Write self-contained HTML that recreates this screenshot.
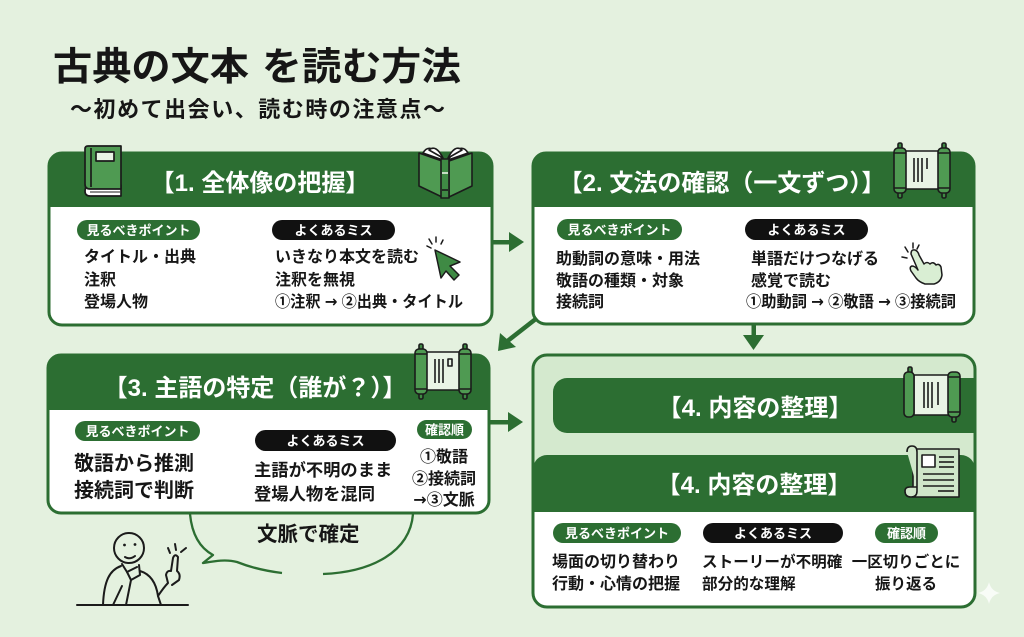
<!DOCTYPE html>
<html><head><meta charset="utf-8">
<style>
html,body{margin:0;padding:0;background:#e4f1df;}
svg{display:block;}
text{font-family:"Liberation Sans","Noto Sans CJK JP",sans-serif;font-weight:700;}
.ar{font-family:"DejaVu Sans","Liberation Sans",sans-serif;font-weight:700;}
</style></head><body>
<svg width="1024" height="637" viewBox="0 0 1024 637" xmlns="http://www.w3.org/2000/svg">
<rect width="1024" height="637" fill="#e4f1df"/>

<!-- Title -->
<text x="53" y="80" font-size="38.5" fill="#161616" textLength="196" lengthAdjust="spacingAndGlyphs">古典の文本</text>
<text x="262" y="80" font-size="38.5" fill="#161616" textLength="199" lengthAdjust="spacingAndGlyphs">を読む方法</text>
<text x="70" y="117" font-size="22" fill="#161616" textLength="375" lengthAdjust="spacing">〜初めて出会い、読む時の注意点〜</text>

<!-- ===== Box 1 ===== -->
<rect x="49" y="153" width="443" height="172" rx="13" fill="#fff"/>
<path d="M49,207 V166 A13,13 0 0 1 62,153 H479 A13,13 0 0 1 492,166 V207 Z" fill="#2c6e32"/>
<rect x="49" y="153" width="443" height="172" rx="13" fill="none" stroke="#2c6e32" stroke-width="3"/>
<text x="260" y="191" font-size="24" fill="#fff" text-anchor="middle">【1. 全体像の把握】</text>

<!-- book icon -->
<g stroke="#1b1b1b" stroke-width="1.7" stroke-linejoin="round">
 <path d="M86,185 H121 V196 H90 Q85,196 85,191 Z" fill="#fff"/>
 <path d="M88,146 H121 V189 H90 Q85,189 85,184 V149 Q85,146 88,146 Z" fill="#4f9a52"/>
 <line x1="91" y1="148" x2="91" y2="187"/>
 <rect x="96" y="152" width="18" height="9" fill="#e9f4e5"/>
 <line x1="90" y1="192" x2="120" y2="192" stroke-width="1"/>
</g>
<!-- open book icon -->
<g stroke="#1b1b1b" stroke-width="1.6" stroke-linejoin="round">
 <path d="M423,153 Q430,141 443,160 Z" fill="#fff"/>
 <path d="M429,150 Q436,144 443,158 Z" fill="#fff"/>
 <path d="M468,153 Q461,141 448,160 Z" fill="#fff"/>
 <path d="M462,150 Q455,144 448,158 Z" fill="#fff"/>
 <path d="M419,153 L442,161 L442,197 L419,186 Z" fill="#4f9a52"/>
 <path d="M472,153 L449,161 L449,197 L472,186 Z" fill="#4f9a52"/>
 <rect x="441" y="159" width="8" height="39" fill="#3f8a44"/>
 <line x1="442" y1="173" x2="448" y2="173" stroke="#e9f4e5" stroke-width="1.6"/>
 <line x1="442" y1="190" x2="448" y2="190"/>
</g>

<rect x="77" y="220" width="123" height="20" rx="10" fill="#2c6e32"/>
<text x="138.5" y="235" font-size="13" fill="#fff" text-anchor="middle">見るべきポイント</text>
<rect x="272" y="220" width="123" height="20" rx="10" fill="#111"/>
<text x="333.5" y="235" font-size="13" fill="#fff" text-anchor="middle">よくあるミス</text>

<g font-size="16" fill="#161616">
 <text x="84" y="262">タイトル・出典</text>
 <text x="84" y="285">注釈</text>
 <text x="84" y="307">登場人物</text>
 <text x="275" y="262">いきなり本文を読む</text>
 <text x="275" y="285">注釈を無視</text>
 <text x="275" y="307" textLength="188" lengthAdjust="spacingAndGlyphs">①注釈 <tspan class="ar">→</tspan> ②出典・タイトル</text>
</g>
<!-- cursor -->
<g stroke="#1b1b1b" stroke-width="1.5" stroke-linecap="round" stroke-linejoin="round">
 <path d="M435,250 L460,262 L450,266 L459,275 L454,280 L446,271 L441,278 Z" fill="#3f8a44"/>
 <line x1="427" y1="246" x2="431" y2="248"/>
 <line x1="429" y1="239" x2="432" y2="244"/>
 <line x1="436" y1="237" x2="436" y2="242"/>
 <line x1="443" y1="240" x2="441" y2="244"/>
</g>

<!-- ===== Box 2 ===== -->
<rect x="533" y="153" width="441" height="171" rx="13" fill="#fff"/>
<path d="M533,207 V166 A13,13 0 0 1 546,153 H961 A13,13 0 0 1 974,166 V207 Z" fill="#2c6e32"/>
<rect x="533" y="153" width="441" height="171" rx="13" fill="none" stroke="#2c6e32" stroke-width="3"/>
<text x="722" y="191" font-size="24" fill="#fff" text-anchor="middle">【2. 文法の確認（一文ずつ）】</text>

<!-- scroll icon box2 -->
<g transform="translate(893,143)" stroke="#1b1b1b" stroke-width="1.6" stroke-linejoin="round">
 <rect x="11" y="8" width="36" height="38" fill="#e9f4e5"/>
 <line x1="21" y1="15" x2="21" y2="39"/><line x1="25" y1="15" x2="25" y2="39"/><line x1="29" y1="15" x2="29" y2="39"/><line x1="34" y1="15" x2="34" y2="26"/>
 <rect x="5" y="0" width="4" height="7" rx="1.5" fill="#3f8a44"/>
 <rect x="5" y="48" width="4" height="7" rx="1.5" fill="#3f8a44"/>
 <rect x="1" y="5" width="12" height="45" rx="4" fill="#4f9a52"/>
 <path d="M1,10 H13 M1,45 H13" fill="none"/>
 <rect x="49" y="0" width="4" height="7" rx="1.5" fill="#3f8a44"/>
 <rect x="49" y="48" width="4" height="7" rx="1.5" fill="#3f8a44"/>
 <rect x="45" y="5" width="12" height="45" rx="4" fill="#4f9a52"/>
 <path d="M45,10 H57 M45,45 H57" fill="none"/>
</g>

<rect x="557" y="219" width="125" height="21" rx="10.5" fill="#2c6e32"/>
<text x="619.5" y="234.5" font-size="13" fill="#fff" text-anchor="middle">見るべきポイント</text>
<rect x="745" y="219" width="123" height="21" rx="10.5" fill="#111"/>
<text x="806.5" y="234.5" font-size="13" fill="#fff" text-anchor="middle">よくあるミス</text>

<g font-size="16" fill="#161616">
 <text x="556" y="264">助動詞の意味・用法</text>
 <text x="556" y="286">敬語の種類・対象</text>
 <text x="556" y="307">接続詞</text>
 <text x="751" y="264">単語だけつなげる</text>
 <text x="751" y="286">感覚で読む</text>
 <text x="746" y="307" textLength="210" lengthAdjust="spacingAndGlyphs">①助動詞 <tspan class="ar">→</tspan> ②敬語 <tspan class="ar">→</tspan> ③接続詞</text>
</g>
<!-- hand -->
<g stroke="#1b1b1b" stroke-width="1.5" stroke-linecap="round" stroke-linejoin="round">
 <path d="M911,254 Q911,249 915,250 Q918,251 919,255 L924,264 Q927,261 930,264 Q933,261 936,265 Q939,263 941,267 L942,275 Q941,282 934,284 L925,284 Q919,282 916,278 L911,271 Q909,267 912,266 Q915,266 918,270 Z" fill="#d9eed3"/>
 <line x1="902" y1="257" x2="907" y2="258"/>
 <line x1="905" y1="247" x2="908" y2="252"/>
 <line x1="913" y1="243" x2="913" y2="248"/>
 <line x1="919" y1="245" x2="917" y2="249"/>
</g>

<!-- ===== Arrows ===== -->
<g fill="#2c6e32" stroke="none">
 <rect x="492" y="240" width="20" height="4.5"/>
 <polygon points="509,232 524,242 509,252"/>
 <rect x="489" y="420" width="22" height="4.5"/>
 <polygon points="508,412 523,422 508,432"/>
 <rect x="751.5" y="324" width="4.5" height="13"/>
 <polygon points="743,335 764,335 753.5,350"/>
 <polygon points="498,351 500,333 516,347"/>
</g>
<line x1="537" y1="318" x2="505" y2="343" stroke="#2c6e32" stroke-width="4.5"/>

<!-- ===== Box 3 ===== -->
<rect x="48" y="355" width="441" height="158" rx="13" fill="#fff"/>
<path d="M48,410 V368 A13,13 0 0 1 61,355 H476 A13,13 0 0 1 489,368 V410 Z" fill="#2c6e32"/>
<rect x="48" y="355" width="441" height="158" rx="13" fill="none" stroke="#2c6e32" stroke-width="3"/>
<text x="255" y="396" font-size="24" fill="#fff" text-anchor="middle">【3. 主語の特定（誰が？）】</text>

<!-- scroll icon box3 -->
<g transform="translate(414,344)" stroke="#1b1b1b" stroke-width="1.6" stroke-linejoin="round">
 <rect x="11" y="8" width="36" height="38" fill="#e9f4e5"/>
 <line x1="21" y1="15" x2="21" y2="39"/><line x1="25" y1="15" x2="25" y2="39"/><line x1="29" y1="15" x2="29" y2="39"/><rect x="34" y="15" width="4" height="7" fill="none"/>
 <rect x="5" y="0" width="4" height="7" rx="1.5" fill="#3f8a44"/>
 <rect x="5" y="48" width="4" height="7" rx="1.5" fill="#3f8a44"/>
 <rect x="1" y="5" width="12" height="45" rx="4" fill="#4f9a52"/>
 <path d="M1,10 H13 M1,45 H13" fill="none"/>
 <rect x="49" y="0" width="4" height="7" rx="1.5" fill="#3f8a44"/>
 <rect x="49" y="48" width="4" height="7" rx="1.5" fill="#3f8a44"/>
 <rect x="45" y="5" width="12" height="45" rx="4" fill="#4f9a52"/>
 <path d="M45,10 H57 M45,45 H57" fill="none"/>
</g>

<rect x="75" y="421" width="125" height="20" rx="10" fill="#2c6e32"/>
<text x="137.5" y="436" font-size="13" fill="#fff" text-anchor="middle">見るべきポイント</text>
<rect x="255" y="430" width="141" height="21" rx="10.5" fill="#111"/>
<text x="325.5" y="445.5" font-size="13" fill="#fff" text-anchor="middle">よくあるミス</text>
<rect x="417" y="420" width="55" height="19" rx="9.5" fill="#2c6e32"/>
<text x="444.5" y="434.5" font-size="13" fill="#fff" text-anchor="middle">確認順</text>

<g fill="#161616">
 <text x="74" y="470" font-size="20">敬語から推測</text>
 <text x="74" y="497" font-size="20">接続詞で判断</text>
 <text x="254" y="476" font-size="17.3">主語が不明のまま</text>
 <text x="254" y="500" font-size="17.3">登場人物を混同</text>
 <text x="444" y="462" font-size="16" text-anchor="middle">①敬語</text>
 <text x="444" y="484" font-size="16" text-anchor="middle">②接続詞</text>
 <text x="444" y="505" font-size="16" text-anchor="middle"><tspan class="ar">→</tspan>③文脈</text>
</g>

<!-- speech bubble -->
<path d="M190,514 C192,535 200,548 213,555 L203,563 C215,561 226,559 237,562 C252,568 266,571 282,573" fill="none" stroke="#2c6e32" stroke-width="2.3" stroke-linejoin="round"/>
<path d="M323,574 C372,572 410,552 413,514" fill="none" stroke="#2c6e32" stroke-width="2.3"/>
<text x="257" y="541" font-size="20.5" fill="#161616">文脈で確定</text>

<!-- person -->
<g fill="none" stroke="#1b1b1b" stroke-width="2" stroke-linecap="round" stroke-linejoin="round">
 <circle cx="129" cy="548" r="15"/>
 <path d="M125,557 Q130,560 135,556"/>
 <path d="M122,564 L127,572 L137,567"/>
 <path d="M127,572 L131,580 L140,575 L139,565"/>
 <path d="M121,566 C110,570 104,580 103,605"/>
 <path d="M113,605 L122,586"/>
 <path d="M131,580 L126,605"/>
 <path d="M140,571 C150,574 156,582 158,596 L161,605"/>
 <path d="M158,596 C162,590 165,586 168,583 L166,575 Q167,570 171,571 L173,558 Q175,553 178,557 L177,571 Q181,574 179,580 L172,585"/>
 <path d="M168,548 L170,553 M175,544 L176,550 M181,552 L186,548"/>
 <path d="M77,605 H188"/>
</g>
<circle cx="124.5" cy="545" r="1.4" fill="#1b1b1b"/>
<circle cx="135" cy="544.5" r="1.4" fill="#1b1b1b"/>

<!-- ===== Box 4 ===== -->
<rect x="533" y="355" width="442" height="252" rx="14" fill="#d4e9ce"/>
<path d="M974,378 H567 A14,14 0 0 0 553,392 V419 A14,14 0 0 0 567,433 H974 Z" fill="#2c6e32"/>
<path d="M533,512 V469 A14,14 0 0 1 547,455 H961 A14,14 0 0 1 975,469 V512 Z" fill="#2c6e32"/>
<path d="M533,512 H975 V593 A14,14 0 0 1 961,607 H547 A14,14 0 0 1 533,593 Z" fill="#fff"/>
<rect x="533" y="355" width="442" height="252" rx="14" fill="none" stroke="#2c6e32" stroke-width="3"/>
<text x="755" y="416" font-size="24" fill="#fff" text-anchor="middle">【4. 内容の整理】</text>
<text x="754" y="493" font-size="24" fill="#fff" text-anchor="middle">【4. 内容の整理】</text>

<!-- scroll icon box4 -->
<g transform="translate(903,367)" stroke="#1b1b1b" stroke-width="1.6" stroke-linejoin="round">
 <rect x="11" y="8" width="36" height="40" fill="#e9f4e5"/>
 <line x1="21" y1="15" x2="21" y2="41"/><line x1="25" y1="15" x2="25" y2="41"/><line x1="29" y1="15" x2="29" y2="41"/><line x1="35" y1="15" x2="35" y2="38"/>
 <rect x="5" y="0" width="4" height="7" rx="1.5" fill="#3f8a44"/>
 <rect x="1" y="5" width="10" height="45" rx="4" fill="#4f9a52"/>
 <rect x="49" y="48" width="4" height="7" rx="1.5" fill="#3f8a44"/>
 <rect x="45" y="5" width="12" height="45" rx="4" fill="#4f9a52"/>
 <path d="M45,10 H57 M45,45 H57" fill="none"/>
</g>
<!-- newspaper icon -->
<g stroke="#1b1b1b" stroke-width="1.6" stroke-linejoin="round">
 <path d="M913,449 H959 V497 H913 Z" fill="#cfe6c9"/>
 <path d="M907,452 Q907,446 912,446 Q917,446 917,452 V491 Q917,497 911,497 Q905,497 905,491 Q905,487 910,487 H917" fill="#cfe6c9"/>
 <rect x="922" y="455" width="13" height="12" fill="#fff"/>
 <line x1="939" y1="457" x2="954" y2="457"/><line x1="939" y1="462" x2="954" y2="462"/><line x1="939" y1="467" x2="954" y2="467"/>
 <line x1="923" y1="474" x2="954" y2="474"/><line x1="923" y1="480" x2="954" y2="480"/><line x1="923" y1="486" x2="954" y2="486"/><line x1="938" y1="491" x2="954" y2="491"/>
</g>

<rect x="553" y="523" width="128" height="20" rx="10" fill="#2c6e32"/>
<text x="617" y="538" font-size="13" fill="#fff" text-anchor="middle">見るべきポイント</text>
<rect x="703" y="523" width="140" height="20" rx="10" fill="#111"/>
<text x="773" y="538" font-size="13" fill="#fff" text-anchor="middle">よくあるミス</text>
<rect x="875" y="523" width="63" height="20" rx="10" fill="#2c6e32"/>
<text x="906.5" y="538" font-size="13" fill="#fff" text-anchor="middle">確認順</text>

<g fill="#161616">
 <text x="552" y="567" font-size="16">場面の切り替わり</text>
 <text x="552" y="589" font-size="16">行動・心情の把握</text>
 <text x="702" y="567" font-size="15.6">ストーリーが不明確</text>
 <text x="702" y="589" font-size="15.6">部分的な理解</text>
 <text x="906" y="567" font-size="15.5" text-anchor="middle">一区切りごとに</text>
 <text x="906" y="589" font-size="15.5" text-anchor="middle">振り返る</text>
</g>

<!-- sparkle -->
<path d="M989,582 Q991,591 1000,593 Q991,595 989,604 Q987,595 978,593 Q987,591 989,582 Z" fill="#ffffff" opacity="0.75"/>
</svg>
</body></html>
